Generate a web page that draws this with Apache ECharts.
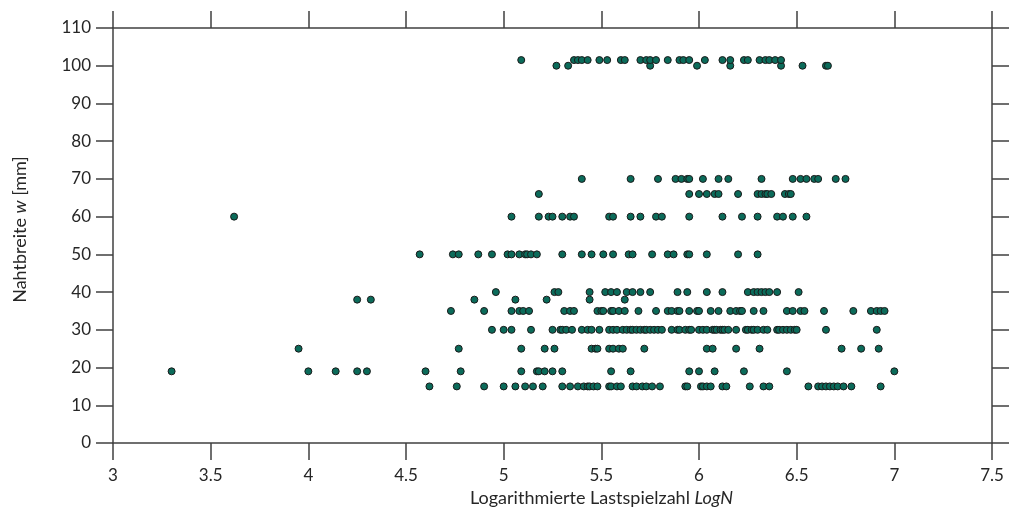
<!DOCTYPE html>
<html>
<head>
<meta charset="utf-8">
<script src="https://cdn.jsdelivr.net/npm/echarts@6/dist/echarts.min.js"></script>
<style>
  html, body { margin: 0; padding: 0; background: #fff; }
  #chart { width: 1009px; height: 515px; }
</style>
</head>
<body>
<div id="chart"></div>
<script>
// LogN values per seam width level
var logN15 = [4.62, 4.76, 4.90, 5.00, 5.06, 5.11, 5.15, 5.20, 5.30, 5.34, 5.38, 5.41, 5.43, 5.44, 5.46, 5.48, 5.54, 5.55, 5.58, 5.60, 5.66, 5.68, 5.71, 5.73, 5.76, 5.80, 5.93, 5.94, 6.01, 6.02, 6.04, 6.06, 6.12, 6.14, 6.26, 6.33, 6.36, 6.56, 6.61, 6.63, 6.65, 6.67, 6.69, 6.71, 6.74, 6.78, 6.93];
var logN19 = [3.30, 4.00, 4.14, 4.25, 4.30, 4.60, 4.78, 5.09, 5.17, 5.18, 5.21, 5.25, 5.30, 5.55, 5.65, 5.95, 6.00, 6.08, 6.23, 6.45, 7.00];
var logN25 = [3.95, 4.77, 5.09, 5.21, 5.26, 5.45, 5.47, 5.48, 5.54, 5.56, 5.59, 5.61, 5.72, 6.04, 6.07, 6.19, 6.31, 6.73, 6.83, 6.92];
var logN30 = [4.94, 5.00, 5.04, 5.14, 5.25, 5.29, 5.30, 5.32, 5.35, 5.40, 5.43, 5.45, 5.49, 5.54, 5.56, 5.58, 5.61, 5.63, 5.65, 5.66, 5.68, 5.70, 5.72, 5.73, 5.75, 5.77, 5.79, 5.81, 5.86, 5.89, 5.90, 5.93, 5.95, 5.96, 6.00, 6.02, 6.04, 6.07, 6.08, 6.09, 6.11, 6.12, 6.13, 6.15, 6.19, 6.24, 6.25, 6.27, 6.28, 6.30, 6.33, 6.35, 6.40, 6.41, 6.43, 6.45, 6.47, 6.49, 6.50, 6.65, 6.91];
var logN35 = [4.73, 4.90, 5.04, 5.08, 5.10, 5.13, 5.31, 5.34, 5.36, 5.48, 5.50, 5.51, 5.55, 5.56, 5.59, 5.62, 5.69, 5.78, 5.84, 5.86, 5.89, 5.90, 5.95, 5.99, 6.00, 6.06, 6.10, 6.16, 6.19, 6.21, 6.22, 6.28, 6.33, 6.45, 6.48, 6.52, 6.54, 6.64, 6.79, 6.88, 6.91, 6.93, 6.95];
var logN38 = [4.25, 4.32, 4.85, 5.06, 5.22, 5.44, 5.62];
var logN40 = [4.96, 5.26, 5.28, 5.44, 5.52, 5.55, 5.58, 5.63, 5.66, 5.70, 5.75, 5.89, 5.94, 6.04, 6.12, 6.25, 6.28, 6.30, 6.32, 6.34, 6.36, 6.40, 6.51];
var logN50 = [4.57, 4.74, 4.77, 4.87, 4.94, 5.02, 5.04, 5.08, 5.11, 5.12, 5.14, 5.17, 5.30, 5.40, 5.45, 5.51, 5.56, 5.64, 5.66, 5.76, 5.84, 5.87, 5.94, 5.95, 6.04, 6.20, 6.30];
var logN60 = [3.62, 5.04, 5.18, 5.23, 5.25, 5.30, 5.34, 5.36, 5.54, 5.56, 5.65, 5.70, 5.78, 5.81, 5.95, 6.12, 6.22, 6.30, 6.40, 6.43, 6.48, 6.55];
var logN66 = [5.18, 5.95, 6.00, 6.04, 6.08, 6.10, 6.20, 6.30, 6.32, 6.34, 6.35, 6.37, 6.44, 6.46, 6.47];
var logN70 = [5.40, 5.65, 5.79, 5.88, 5.91, 5.94, 5.95, 6.02, 6.10, 6.15, 6.32, 6.48, 6.52, 6.55, 6.59, 6.61, 6.70, 6.75];
var logN100 = [5.27, 5.33, 5.75, 5.99, 6.16, 6.42, 6.53, 6.65, 6.66];
var logN101 = [5.09, 5.36, 5.38, 5.40, 5.43, 5.49, 5.53, 5.60, 5.62, 5.70, 5.73, 5.75, 5.78, 5.84, 5.90, 5.92, 5.95, 6.03, 6.12, 6.16, 6.23, 6.25, 6.31, 6.34, 6.36, 6.39, 6.42];

var widths = [15, 19, 25, 30, 35, 38, 40, 50, 60, 66, 70, 100, 101.5];
var groups = [logN15, logN19, logN25, logN30, logN35, logN38, logN40, logN50, logN60, logN66, logN70, logN100, logN101];

var points = [];
groups.forEach(function (arr, i) {
  arr.forEach(function (x) { points.push([x, widths[i]]); });
});

var axisColor = '#404040';
var textColor = '#262626';
var fontFam = 'Lato, "Open Sans", sans-serif';

var dom = document.getElementById('chart');
var myChart = echarts.init(dom, null, { renderer: 'canvas' });

var option = {
  animation: false,
  backgroundColor: '#fff',
  grid: { left: 113, right: 17, top: 28, bottom: 72 },
  xAxis: [
    {
      type: 'value', position: 'bottom',
      min: 3, max: 7.5, interval: 0.5,
      axisLine: { show: true, onZero: false, lineStyle: { color: axisColor, width: 1.5 } },
      axisTick: { show: true, inside: false, length: 17, lineStyle: { color: axisColor, width: 1.5 } },
      axisLabel: { color: textColor, fontSize: 17, fontFamily: fontFam, margin: 24 },
      splitLine: { show: false },
      name: '{a|Logarithmierte Lastspielzahl }{b|LogN}',
      nameLocation: 'middle',
      nameGap: 43,
      nameTextStyle: {
        padding: [0, 0, 0, 98],
        rich: {
          a: { color: textColor, fontSize: 18, fontFamily: fontFam },
          b: { color: textColor, fontSize: 18, fontFamily: fontFam, fontStyle: 'italic' }
        }
      }
    },
    {
      type: 'value', position: 'top',
      min: 3, max: 7.5, interval: 0.5,
      axisLine: { show: true, onZero: false, lineStyle: { color: axisColor, width: 1.5 } },
      axisTick: { show: true, inside: false, length: 17, lineStyle: { color: axisColor, width: 1.5 } },
      axisLabel: { show: false },
      splitLine: { show: false }
    }
  ],
  yAxis: [
    {
      type: 'value', position: 'left',
      min: 0, max: 110, interval: 10,
      axisLine: { show: true, onZero: false, lineStyle: { color: axisColor, width: 1.5 } },
      axisTick: { show: true, inside: false, length: 17, lineStyle: { color: axisColor, width: 1.5 } },
      axisLabel: { color: textColor, fontSize: 17, fontFamily: fontFam, margin: 22 },
      splitLine: { show: false },
      name: '{a|Nahtbreite }{b|w}{a| [mm]}',
      nameLocation: 'middle',
      nameGap: 84,
      nameRotate: 90,
      nameTextStyle: {
        padding: [0, 0, 0, 12],
        rich: {
          a: { color: textColor, fontSize: 18, fontFamily: fontFam },
          b: { color: textColor, fontSize: 18, fontFamily: fontFam, fontStyle: 'italic' }
        }
      }
    },
    {
      type: 'value', position: 'right',
      min: 0, max: 110, interval: 10,
      axisLine: { show: true, onZero: false, lineStyle: { color: axisColor, width: 1.5 } },
      axisTick: { show: true, inside: false, length: 17, lineStyle: { color: axisColor, width: 1.5 } },
      axisLabel: { show: false },
      splitLine: { show: false }
    }
  ],
  series: [
    {
      type: 'scatter',
      xAxisIndex: 0,
      yAxisIndex: 0,
      data: points,
      symbol: 'circle',
      symbolSize: 7,
      itemStyle: { color: '#0b6b5a', borderColor: '#1a1a1a', borderWidth: 1, opacity: 1 }
    }
  ]
};

myChart.setOption(option);
window.addEventListener('resize', myChart.resize);
</script>
</body>
</html>
